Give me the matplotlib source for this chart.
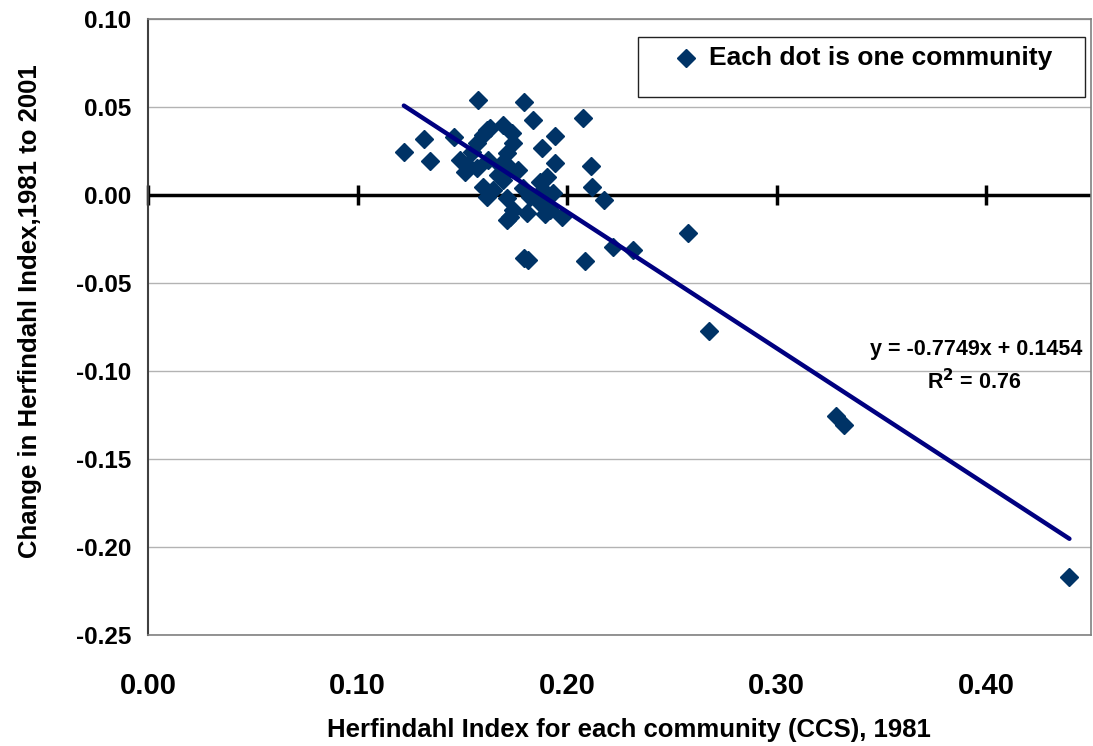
import matplotlib
matplotlib.use("Agg")
import matplotlib.pyplot as plt
from matplotlib.patches import Rectangle

plt.rcParams['font.family'] = ['Liberation Sans', 'DejaVu Sans']
plt.rcParams['font.weight'] = 'bold'

# Herfindahl index per community (CCS), 1981
hhi_1981 = [
    0.1221, 0.1316, 0.1345, 0.1459, 0.1574, 0.1793, 0.1836, 0.2074, 0.1941,
    0.1879, 0.1941, 0.2113, 0.2117, 0.2175, 0.2084, 0.1812, 0.1793, 0.2217,
    0.2313, 0.2575, 0.2675, 0.3281, 0.3319, 0.4397, 0.1712, 0.1974,
    0.1693, 0.1736, 0.1741, 0.1712, 0.1597, 0.1569, 0.1545, 0.1488, 0.1512,
    0.1569, 0.1621, 0.1679, 0.1726, 0.1764, 0.1597, 0.1645, 0.1617, 0.1693,
    0.1712, 0.1741, 0.1788, 0.1822, 0.1869, 0.1903, 0.1884, 0.1931, 0.1869,
    0.1807, 0.1917, 0.1726, 0.1893, 0.1631, 0.1617, 0.1521, 0.1669,
]
# Change in the index, 1981 to 2001
hhi_change = [
    0.0244, 0.0318, 0.0193, 0.0330, 0.0540, 0.0528, 0.0426, 0.0438, 0.0335,
    0.0267, 0.0182, 0.0165, 0.0045, -0.0028, -0.0375, -0.0369, -0.0358, -0.0295,
    -0.0313, -0.0216, -0.0773, -0.1256, -0.1307, -0.2170, -0.0142, -0.0125,
    0.0398, 0.0352, 0.0296, 0.0239, 0.0341, 0.0296, 0.0244, 0.0199, 0.0131,
    0.0153, 0.0199, 0.0170, 0.0153, 0.0142, 0.0045, 0.0028, -0.0011, 0.0085,
    -0.0017, -0.0085, 0.0040, -0.0011, 0.0074, 0.0102, 0.0028, 0.0011, -0.0045,
    -0.0102, -0.0085, -0.0125, -0.0108, 0.0381, 0.0369, 0.0170, 0.0114,
]

# Linear trend reported on the chart
slope = -0.7749
intercept = 0.1454
r_squared = 0.76

x_ticks = [0.0, 0.1, 0.2, 0.3, 0.4]
y_ticks = [0.10, 0.05, 0.00, -0.05, -0.10, -0.15, -0.20, -0.25]

legend_label = 'Each dot is one community'
x_title = 'Herfindahl Index for each community (CCS), 1981'
y_title = 'Change in Herfindahl Index,1981 to 2001'

marker_color = '#003366'
line_color = '#000080'

W, H = 1093, 746
fig = plt.figure(figsize=(W / 100, H / 100), dpi=100)


def fpos(px, py):
    """Pixel position (from top-left) to figure fraction."""
    return px / W, 1 - py / H


ax = fig.add_axes([148 / W, 1 - 635 / H, (1091 - 148) / W, (635 - 19) / H])
ax.set_xlim(0, 0.45)
ax.set_ylim(-0.25, 0.10)

# gridlines
for y in y_ticks:
    ax.axhline(y, color='#b3b3b3', lw=1.0, zorder=0)

# horizontal axis through zero with crossing tick marks
ax.axhline(0, color='black', lw=2.5, zorder=1)
for xt in x_ticks:
    ax.plot([xt, xt], [-0.0057, 0.0057], color='black', lw=2.5, zorder=1,
            solid_capstyle='butt', clip_on=False)

# data points
ax.plot(hhi_1981, hhi_change, linestyle='none', marker='D', ms=9.5,
        mfc=marker_color, mec=marker_color, zorder=3)

# trend line across the data range
x0, x1 = min(hhi_1981), max(hhi_1981)
ax.plot([x0, x1], [slope * x0 + intercept, slope * x1 + intercept],
        color=line_color, lw=3.2, zorder=4, solid_capstyle='round')

fig.text(*fpos(1082, 350), f'y = {slope:.4f}x + {intercept:.4f}',
         ha='right', va='center', fontsize=15.5, fontweight='bold')
fig.text(*fpos(974, 382), f'R$^2$ = {r_squared:.2f}',
         ha='center', va='center', fontsize=15.5, fontweight='bold')

# frame
for side in ['top', 'right', 'bottom']:
    ax.spines[side].set_color('#808080')
    ax.spines[side].set_linewidth(1.2)
ax.spines['left'].set_color('#404040')
ax.spines['left'].set_linewidth(1.5)

ax.set_xticks(x_ticks)
ax.set_xticklabels([f'{v:.2f}' for v in x_ticks], fontsize=21, fontweight='bold')
ax.set_yticks(y_ticks)
ax.set_yticklabels([f'{v:.2f}' for v in y_ticks], fontsize=17.5, fontweight='bold')
ax.tick_params(axis='both', length=0)
ax.tick_params(axis='x', pad=27)
ax.tick_params(axis='y', pad=12)

fig.text(*fpos(629, 730), x_title, ha='center', va='center',
         fontsize=18.5, fontweight='bold')
fig.text(*fpos(30, 311), y_title, ha='center', va='center', rotation=90,
         fontsize=18.5, fontweight='bold')

# legend box
lx0, ly0 = fpos(638, 97)
lx1, ly1 = fpos(1085, 37)
fig.add_artist(Rectangle((lx0, ly0), lx1 - lx0, ly1 - ly0, transform=fig.transFigure,
                         facecolor='white', edgecolor='#222222', lw=1.0, zorder=5))
mx, my = fpos(686, 58)
fig.add_artist(plt.Line2D([mx], [my], transform=fig.transFigure, linestyle='none',
                          marker='D', ms=9.5, mfc=marker_color, mec=marker_color,
                          zorder=6))
fig.text(*fpos(709, 58), legend_label, ha='left', va='center', fontsize=19,
         fontweight='bold', zorder=6)

fig.savefig('out.png', dpi=100)
